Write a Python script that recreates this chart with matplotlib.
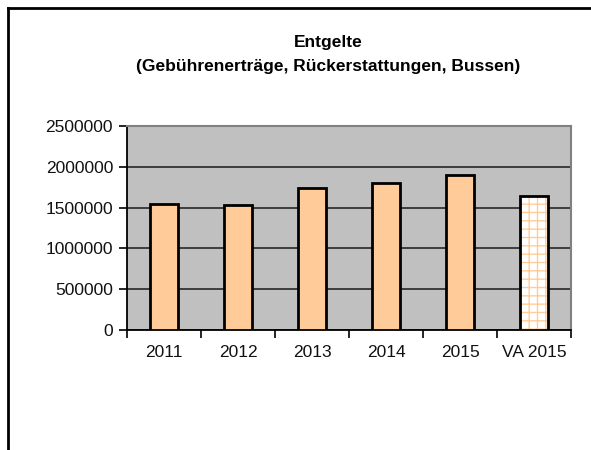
import matplotlib
matplotlib.use("Agg")
import matplotlib.pyplot as plt
from matplotlib.lines import Line2D

# ─── Data ────────────────────────────────────────────────────────────────────
categories = ["2011", "2012", "2013", "2014", "2015", "VA 2015"]
values = [1550000, 1535000, 1735000, 1805000, 1905000, 1640000]
budget_flags = [False, False, False, False, False, True]   # VA = Voranschlag
y_ticks = [0, 500000, 1000000, 1500000, 2000000, 2500000]

PEACH = "#FFCC99"
PLOT_BG = "#C0C0C0"

plt.rcParams.update({
    "font.family": ["Liberation Sans", "DejaVu Sans"],
    "hatch.linewidth": 1.0,
})

fig = plt.figure(figsize=(5.91, 4.5), dpi=100)
ax = fig.add_axes([127 / 591, 1 - 330 / 450, 444 / 591, 204 / 450])
ax.set_facecolor(PLOT_BG)

x = list(range(len(categories)))
width = 0.39

solid_x = [i for i, b in zip(x, budget_flags) if not b]
solid_v = [v for v, b in zip(values, budget_flags) if not b]
hatch_x = [i for i, b in zip(x, budget_flags) if b]
hatch_v = [v for v, b in zip(values, budget_flags) if b]

ax.bar(solid_x, solid_v, width, color=PEACH, edgecolor="black", linewidth=2, zorder=3)
# budget bar: white with peach grid pattern, black outline on top
ax.bar(hatch_x, hatch_v, width, color="white", edgecolor=PEACH, hatch="++",
       linewidth=0, zorder=3)
ax.bar(hatch_x, hatch_v, width, fill=False, edgecolor="black", linewidth=2, zorder=4)

ax.set_xlim(-0.5, len(categories) - 0.5)
ax.set_ylim(0, 2500000)
ax.set_yticks(y_ticks)
ax.set_yticklabels([str(t) for t in y_ticks], fontsize=12.5, color="#111111")
ax.yaxis.grid(True, color="#333333", linewidth=1.3, zorder=1)
ax.set_axisbelow(True)

ax.set_xticks(x)
ax.set_xticklabels(categories, fontsize=12.5, color="#111111")
ax.tick_params(axis="x", which="major", length=0, pad=11)
ax.set_xticks([i - 0.5 for i in range(len(categories) + 1)], minor=True)
ax.tick_params(axis="x", which="minor", length=6, width=1.2, direction="out")
ax.tick_params(axis="y", length=6, width=1.2, direction="out", pad=4)

for side in ["left", "bottom"]:
    ax.spines[side].set_color("black")
    ax.spines[side].set_linewidth(1.3)
for side in ["top", "right"]:
    ax.spines[side].set_color("#808080")
    ax.spines[side].set_linewidth(1.5)

fig.text(328 / 591, 1 - 42 / 450, "Entgelte", ha="center", va="center",
         fontsize=12.5, fontweight="bold")
fig.text(328 / 591, 1 - 66 / 450, "(Gebührenerträge, Rückerstattungen, Bussen)",
         ha="center", va="center", fontsize=12.5, fontweight="bold")

# chart frame (left and top edges visible)
fig.add_artist(Line2D([8 / 591, 8 / 591], [0, 1 - 8 / 450], color="black", linewidth=2))
fig.add_artist(Line2D([8 / 591, 1], [1 - 8 / 450, 1 - 8 / 450], color="black", linewidth=2))

fig.savefig("out.png", dpi=100)
